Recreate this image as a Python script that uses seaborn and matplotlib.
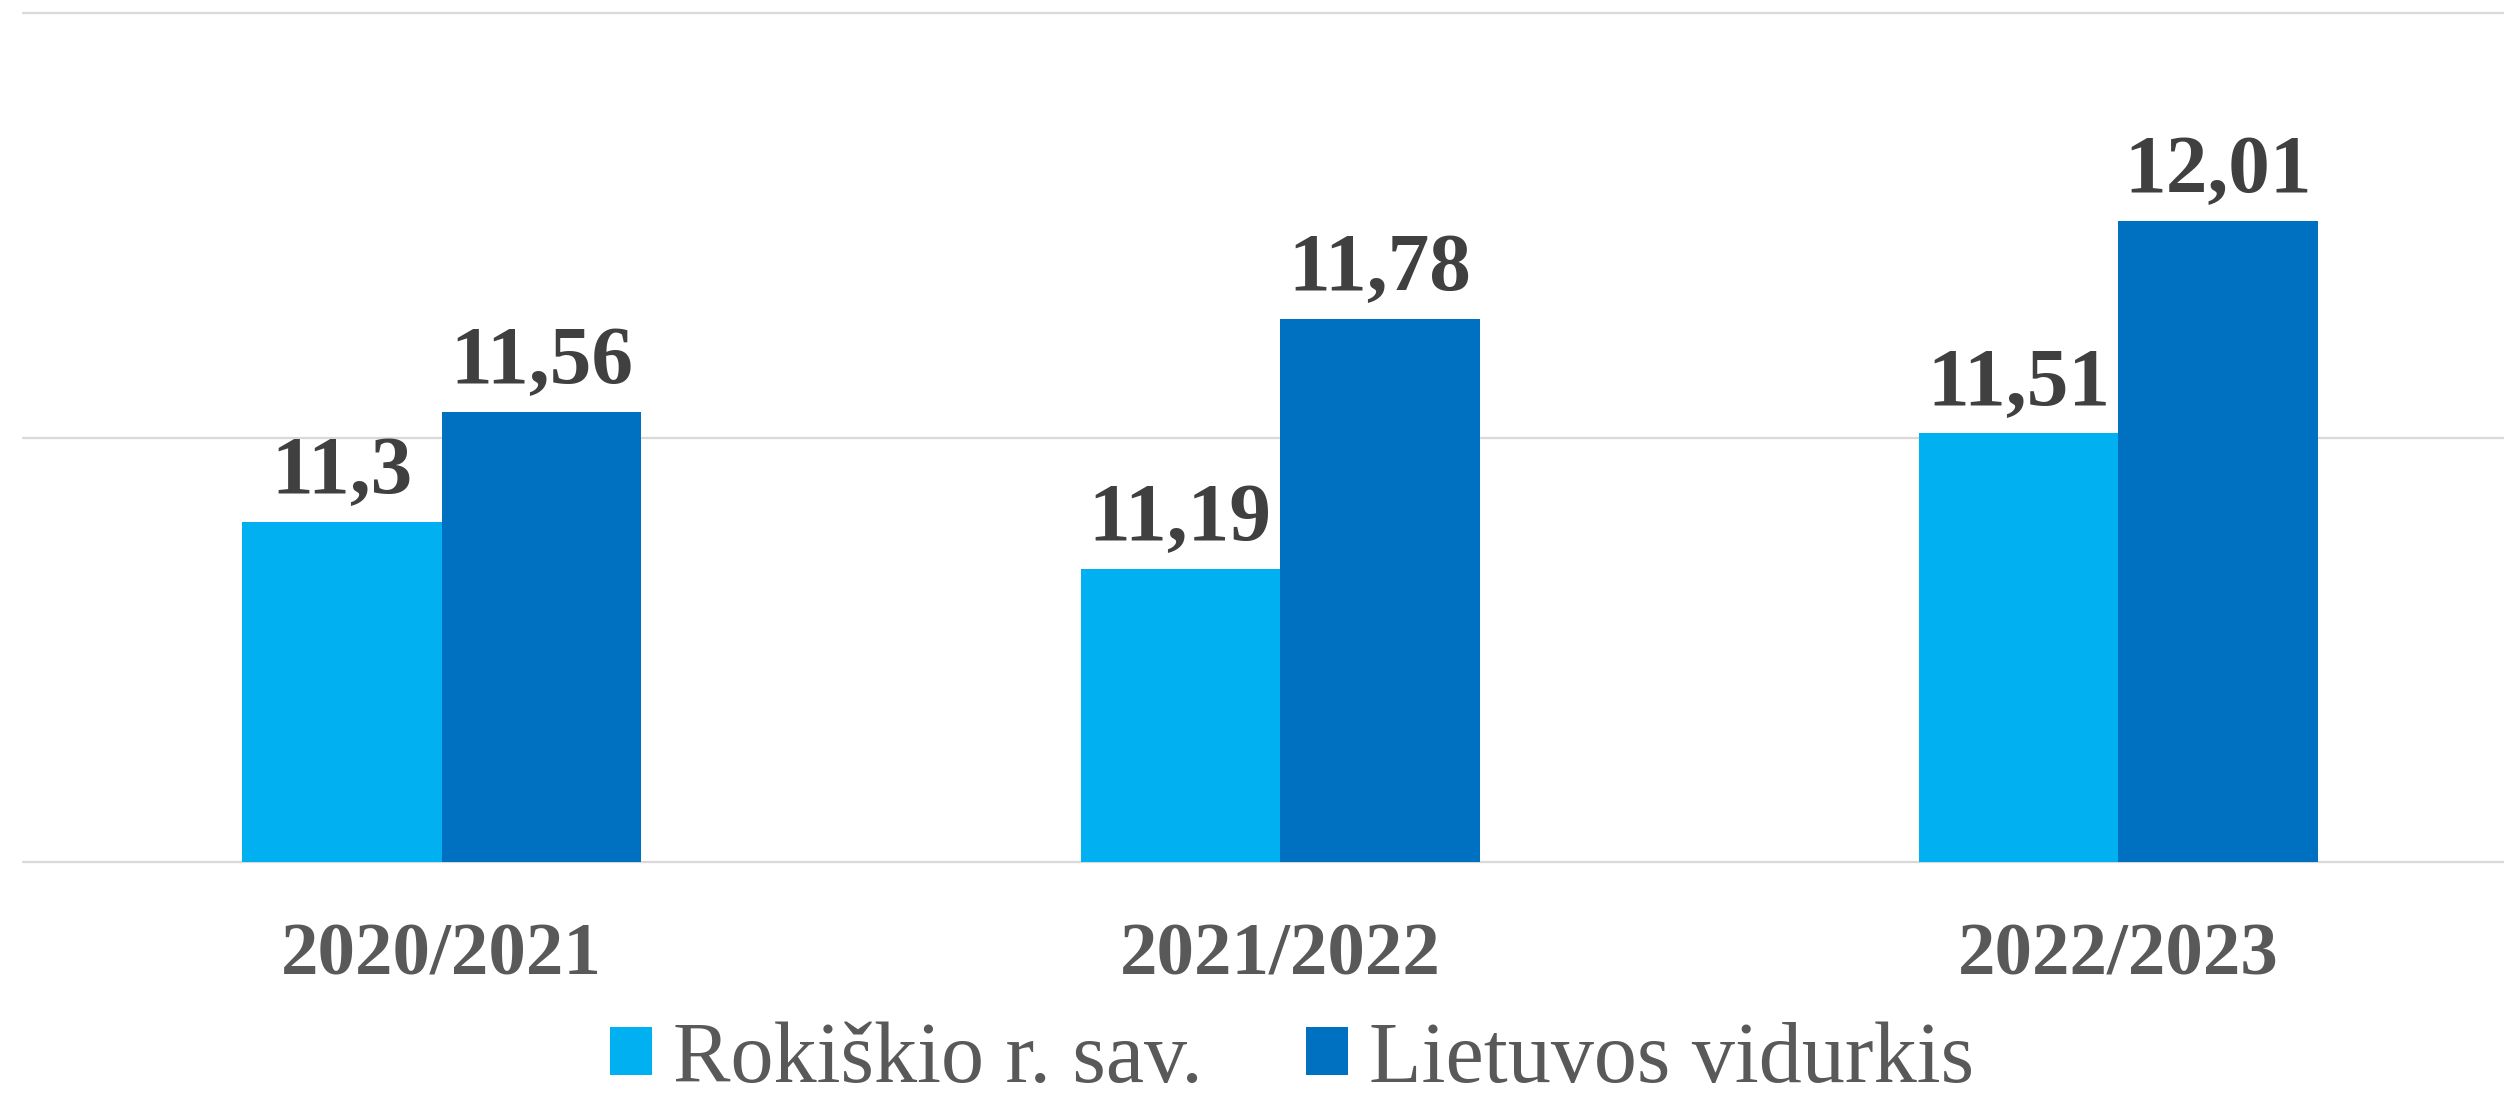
import matplotlib
matplotlib.use("Agg")
import matplotlib.pyplot as plt
from matplotlib.patches import Patch
import seaborn as sns
import pandas as pd

# data
years = ["2020/2021", "2021/2022", "2022/2023"]
series_names = ["Rokiškio r. sav.", "Lietuvos vidurkis"]
rokiskis = [11.3, 11.19, 11.51]
lietuva = [11.56, 11.78, 12.01]
colors = ["#00B0F0", "#0070C0"]

df = pd.DataFrame({
    "year": years * 2,
    "series": [series_names[0]] * 3 + [series_names[1]] * 3,
    "value": rokiskis + lietuva,
})

sns.set_style("white")
plt.rcParams["font.family"] = ["Liberation Serif", "DejaVu Serif"]

fig = plt.figure(figsize=(25.04, 10.96), dpi=100)
ax = fig.add_axes([0.009, 0.2135, 0.991, 0.7745])

sns.barplot(
    data=df, x="year", y="value", hue="series",
    palette=colors, width=0.476, saturation=1,
    linewidth=0, legend=False, ax=ax,
)

ax.set_ylim(10.5, 12.5)
ax.set_xlim(-0.5, 2.46)
ax.set_yticks([10.5, 11.5, 12.5])
ax.yaxis.grid(True, color="#D9D9D9", linewidth=1.6)
ax.set_axisbelow(True)
for gl in ax.get_ygridlines():
    gl.set_clip_on(False)
ax.tick_params(axis="y", left=False, labelleft=False)
ax.tick_params(axis="x", bottom=False, pad=40, labelsize=54, labelcolor="#595959")
for lbl in ax.get_xticklabels():
    lbl.set_fontweight("bold")
ax.set_xlabel("")
ax.set_ylabel("")
for s in ax.spines.values():
    s.set_visible(False)

for cont, vals in zip(ax.containers, [rokiskis, lietuva]):
    ax.bar_label(
        cont, labels=[f"{v:g}".replace(".", ",") for v in vals],
        padding=8, fontsize=60, fontweight="bold", color="#404040",
    )

handles = [Patch(facecolor=c, edgecolor="none") for c in colors]
fig.legend(
    handles, series_names, loc="center", bbox_to_anchor=(0.516, 0.032),
    ncol=2, frameon=False, fontsize=62, handlelength=0.49, handleheight=0.49,
    handletextpad=0.24, columnspacing=1.2, labelcolor="#595959",
)

fig.savefig("out.png", dpi=100, facecolor="white")
